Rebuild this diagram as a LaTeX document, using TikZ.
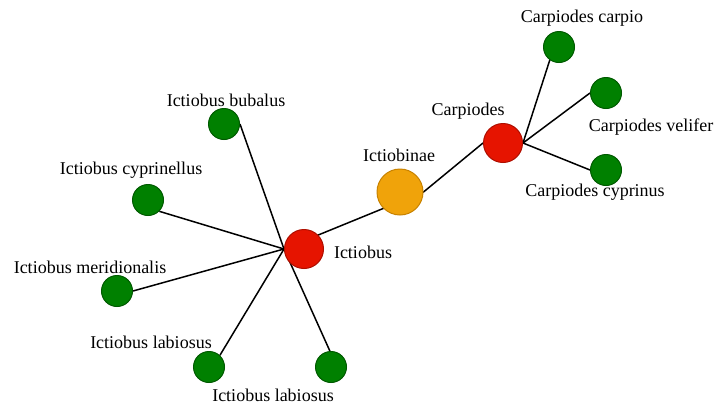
\documentclass[tikz,border=0pt]{standalone}
\usepackage{fontspec}
\setmainfont{Liberation Serif}
\usetikzlibrary{backgrounds}
\definecolor{leaffill}{RGB}{0,128,0}
\definecolor{leafdraw}{RGB}{0,90,0}
\definecolor{genfill}{RGB}{230,20,0}
\definecolor{gendraw}{RGB}{175,15,0}
\definecolor{famfill}{RGB}{240,163,10}
\definecolor{famdraw}{RGB}{200,130,0}
\tikzset{
  leaf/.style={circle, fill=leaffill, draw=leafdraw, line width=1pt, minimum size=31pt, inner sep=0pt},
  genus/.style={circle, fill=genfill, draw=gendraw, line width=1pt, minimum size=39pt, inner sep=0pt},
  family/.style={circle, fill=famfill, draw=famdraw, line width=1pt, minimum size=46pt, inner sep=0pt},
  lbl/.style={anchor=base, inner sep=0pt, font=\fontsize{18}{20}\selectfont},
  edge/.style={draw=black, line width=1.5pt}
}
\begin{document}
\begin{tikzpicture}[x=1pt, y=-1pt]
\useasboundingbox (0,0) rectangle (715,405);
% main nodes
\node[family] (ictiobinae) at (400,192) {};
\node[genus] (ictiobus) at (304,249) {};
\node[genus] (carpiodes) at (503,143) {};
\node[leaf] (carpio) at (559,47) {};
\node[leaf] (velifer) at (606,93) {};
\node[leaf] (cyprinus) at (606,170) {};
\node[leaf] (bubalus) at (224,124) {};
\node[leaf] (cyprinellus) at (148,200) {};
\node[leaf] (meridionalis) at (117,291) {};
\node[leaf] (labL) at (209,367) {};
\node[leaf] (labR) at (331,367) {};
% labels
\node[lbl] (tIctiobinae) at (399,161) {Ictiobinae};
\node[lbl] (tIctiobus) at (363,258) {Ictiobus};
\node[lbl] (tCarpiodes) at (468,115) {Carpiodes};
\node[lbl] (tCarpio) at (582,22) {Carpiodes carpio};
\node[lbl] (tVelifer) at (651,131) {Carpiodes velifer};
\node[lbl] (tCyprinus) at (595,196) {Carpiodes cyprinus};
\node[lbl] (tBubalus) at (226,106) {Ictiobus bubalus};
\node[lbl] (tCyprinellus) at (131,174) {Ictiobus cyprinellus};
\node[lbl] (tMeridionalis) at (90,273) {Ictiobus meridionalis};
\node[lbl] (tLabL) at (151,348) {Ictiobus labiosus};
\node[lbl] (tLabR) at (273,401) {Ictiobus labiosus};
% edges behind
\begin{scope}[on background layer]
\fill[white] (0,0) rectangle (715,405);
\draw[edge] (ictiobinae.east) -- (ictiobus.west);
\draw[edge] (ictiobinae.east) -- (carpiodes.west);
\draw[edge] (carpiodes.east) -- ([xshift=-5pt]carpio.center);
\draw[edge] (carpiodes.east) -- (velifer.west);
\draw[edge] (carpiodes.east) -- (cyprinus.west);
\draw[edge] (ictiobus.west) -- (bubalus.east);
\draw[edge] (ictiobus.west) -- (cyprinellus.-45);
\draw[edge] (ictiobus.west) -- (meridionalis.east);
\draw[edge] (ictiobus.west) -- (labL.47);
\draw[edge] (ictiobus.west) -- (labR.94);
\end{scope}
\end{tikzpicture}
\end{document}
